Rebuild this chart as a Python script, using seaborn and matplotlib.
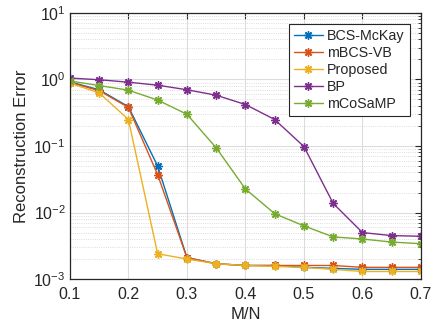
import numpy as np
import pandas as pd
import matplotlib
matplotlib.use('Agg')
import matplotlib.pyplot as plt
import seaborn as sns

# Data
mn = [0.1, 0.15, 0.2, 0.25, 0.3, 0.35, 0.4, 0.45, 0.5, 0.55, 0.6, 0.65, 0.7]
bcs_mckay = [0.92, 0.70, 0.39, 0.050, 0.0021, 0.0017, 0.0016, 0.0016, 0.0015, 0.00145, 0.0014, 0.0014, 0.0014]
mbcs_vb = [0.90, 0.68, 0.38, 0.037, 0.0021, 0.0017, 0.0016, 0.0016, 0.0016, 0.0016, 0.0015, 0.0015, 0.0015]
proposed = [0.88, 0.63, 0.25, 0.0024, 0.0020, 0.0017, 0.0016, 0.00155, 0.0015, 0.0014, 0.0013, 0.0013, 0.0013]
bp = [1.05, 0.99, 0.91, 0.82, 0.70, 0.58, 0.42, 0.25, 0.098, 0.0137, 0.0050, 0.0045, 0.0044]
mcosamp = [0.95, 0.81, 0.69, 0.49, 0.30, 0.094, 0.0226, 0.0096, 0.0063, 0.0043, 0.0040, 0.0036, 0.0034]

names = ['BCS-McKay', 'mBCS-VB', 'Proposed', 'BP', 'mCoSaMP']
series = [bcs_mckay, mbcs_vb, proposed, bp, mcosamp]
colors = ['#0072BD', '#D95319', '#EDB120', '#7E2F8E', '#77AC30']

sns.set_style('white')
plt.rcParams['font.family'] = ['Liberation Sans', 'DejaVu Sans']
plt.rcParams['mathtext.fontset'] = 'custom'
plt.rcParams['mathtext.rm'] = 'Liberation Sans'

fig = plt.figure(figsize=(4.34, 3.23), dpi=100)
ax = fig.add_axes([0.161, 0.136, 0.809, 0.824])

for name, vals, c in zip(names, series, colors):
    df = pd.DataFrame({'M/N': mn, 'err': vals})
    sns.lineplot(data=df, x='M/N', y='err', ax=ax, color=c, label=name,
                 marker=(8, 2, 0), markersize=6, markeredgecolor=c,
                 markeredgewidth=1.0, linewidth=1.0)

ax.set_yscale('log')
ax.set_xlim(0.1, 0.7)
ax.set_ylim(1e-3, 10)
ax.set_xticks([0.1, 0.2, 0.3, 0.4, 0.5, 0.6, 0.7])
ax.set_xticklabels(['0.1', '0.2', '0.3', '0.4', '0.5', '0.6', '0.7'])
ax.set_xlabel('M/N', fontsize=12, color='#262626', labelpad=3)
ax.set_ylabel('Reconstruction Error', fontsize=12, color='#262626', labelpad=3)

ax.grid(True, which='major', color='#dcdcdc', linewidth=0.8, linestyle='-')
ax.grid(True, which='minor', axis='y', color='#d0d0d0', linewidth=0.6, linestyle=':')
ax.set_axisbelow(True)

ax.tick_params(which='both', direction='in', top=True, right=True,
               colors='#262626', labelsize=11.5)
ax.tick_params(which='major', length=4)
ax.tick_params(which='minor', length=2)
ax.tick_params(axis='x', which='major', pad=6)
ax.tick_params(axis='y', which='major', pad=3)
ax.tick_params(axis='x', which='minor', bottom=False, top=False)
for sp in ax.spines.values():
    sp.set_color('#262626')
    sp.set_linewidth(0.9)

leg = ax.legend(loc='upper right', fontsize=10.3, frameon=True, fancybox=False,
                edgecolor='#262626', framealpha=1, borderpad=0.35,
                labelspacing=0.2, handlelength=2.0, handletextpad=0.3,
                borderaxespad=0.8)
leg.get_frame().set_linewidth(0.8)

fig.savefig('out.png', dpi=100)
